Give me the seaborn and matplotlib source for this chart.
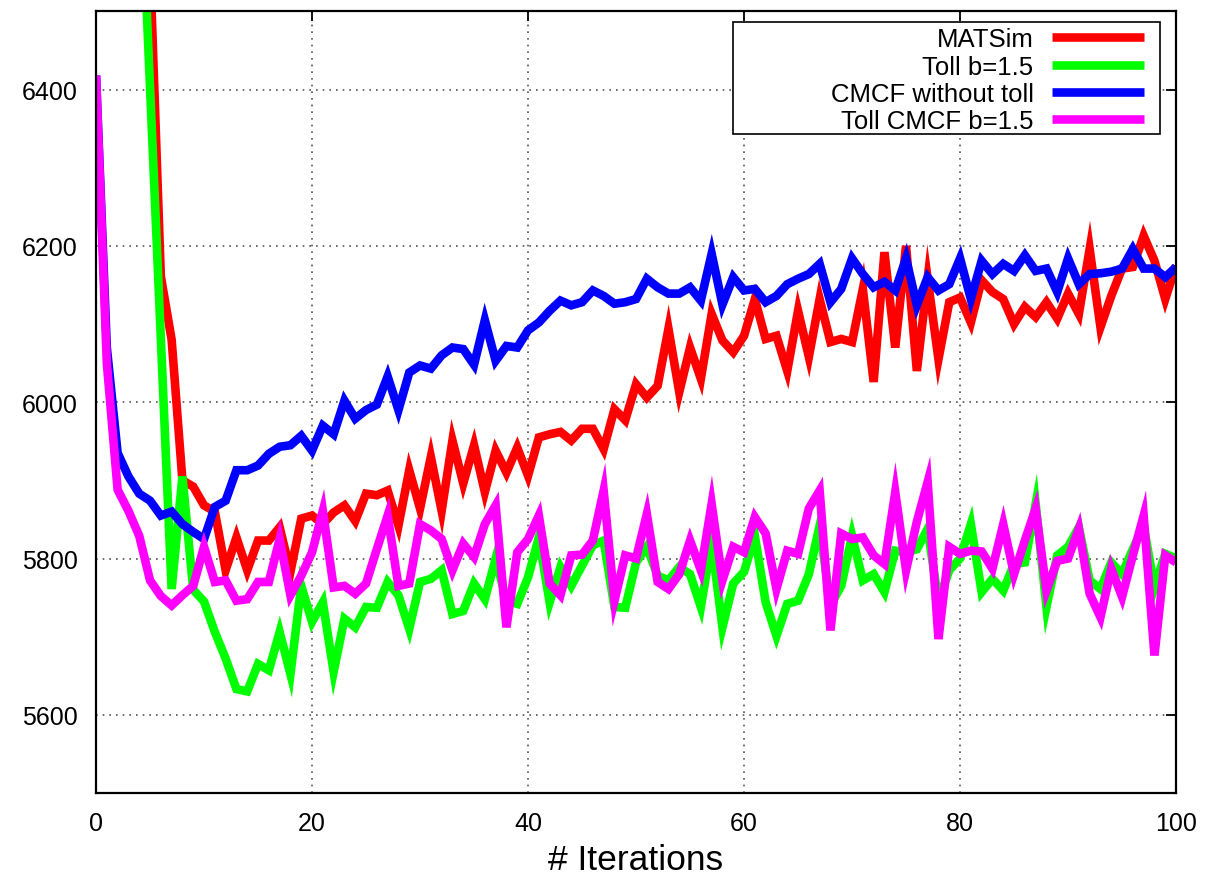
import matplotlib
matplotlib.use("Agg")
import matplotlib.pyplot as plt
import numpy as np
import pandas as pd
import seaborn as sns
from matplotlib.lines import Line2D
from matplotlib.patches import Rectangle

# ---------------- data ----------------
iterations = list(range(101))

matsim = [8200, 7800, 7400, 7100, 6850, 6560, 6161, 6080, 5900, 5892,
          5868, 5860, 5785, 5827, 5785, 5823, 5823, 5840, 5783, 5851,
          5855, 5844, 5859, 5868, 5848, 5883, 5881, 5887, 5842, 5913,
          5864, 5930, 5861, 5951, 5896, 5945, 5885, 5938, 5910, 5942,
          5906, 5955, 5959, 5962, 5951, 5966, 5966, 5940, 5991, 5977,
          6023, 6006, 6021, 6094, 6013, 6070, 6030, 6113, 6079, 6064,
          6085, 6132, 6081, 6085, 6040, 6117, 6058, 6132, 6077, 6081,
          6077, 6145, 6026, 6192, 6070, 6200, 6040, 6158, 6055, 6128,
          6134, 6102, 6156, 6141, 6132, 6100, 6122, 6109, 6128, 6107,
          6139, 6113, 6196, 6096, 6136, 6171, 6173, 6213, 6181, 6132,
          6175]

toll = [8000, 7600, 7250, 6980, 6725, 6403, 6082, 5761, 5905, 5760,
        5745, 5706, 5672, 5633, 5630, 5665, 5657, 5706, 5652, 5765,
        5719, 5744, 5655, 5723, 5712, 5738, 5737, 5770, 5753, 5710,
        5770, 5774, 5785, 5729, 5733, 5768, 5748, 5800, 5746, 5742,
        5776, 5827, 5744, 5789, 5765, 5791, 5817, 5823, 5738, 5737,
        5795, 5815, 5778, 5772, 5789, 5780, 5738, 5821, 5712, 5768,
        5783, 5829, 5744, 5701, 5742, 5746, 5780, 5842, 5740, 5765,
        5829, 5772, 5780, 5757, 5810, 5808, 5812, 5838, 5745, 5785,
        5800, 5844, 5757, 5774, 5759, 5793, 5795, 5870, 5738, 5804,
        5815, 5840, 5772, 5761, 5795, 5780, 5812, 5842, 5763, 5806,
        5800]

cmcf = [6418, 6070, 5935, 5905, 5883, 5874, 5855, 5860, 5844, 5834,
        5825, 5866, 5874, 5913, 5913, 5919, 5934, 5943, 5945, 5957,
        5938, 5970, 5959, 6002, 5979, 5990, 5997, 6033, 5990, 6038,
        6047, 6043, 6060, 6070, 6068, 6048, 6105, 6053, 6072, 6070,
        6092, 6102, 6117, 6130, 6124, 6128, 6143, 6136, 6126, 6128,
        6132, 6158, 6147, 6139, 6139, 6147, 6130, 6190, 6125, 6160,
        6143, 6145, 6128, 6136, 6151, 6158, 6164, 6177, 6128, 6145,
        6184, 6164, 6147, 6154, 6143, 6184, 6124, 6160, 6143, 6151,
        6184, 6132, 6181, 6164, 6177, 6168, 6188, 6168, 6171, 6141,
        6184, 6151, 6164, 6165, 6167, 6171, 6196, 6171, 6171, 6160,
        6173]

toll_cmcf = [6418, 6050, 5888, 5861, 5829, 5772, 5752, 5740, 5753, 5765,
             5815, 5770, 5772, 5746, 5748, 5770, 5770, 5825, 5753, 5778,
             5808, 5861, 5763, 5765, 5755, 5768, 5812, 5855, 5765, 5768,
             5844, 5836, 5825, 5785, 5819, 5802, 5844, 5868, 5712, 5808,
             5825, 5855, 5768, 5753, 5804, 5805, 5823, 5887, 5746, 5804,
             5800, 5857, 5770, 5761, 5780, 5823, 5785, 5870, 5772, 5815,
             5808, 5853, 5832, 5761, 5810, 5806, 5864, 5887, 5708, 5832,
             5825, 5827, 5804, 5793, 5885, 5785, 5847, 5898, 5697, 5815,
             5806, 5810, 5809, 5787, 5844, 5780, 5823, 5864, 5759, 5797,
             5800, 5838, 5755, 5725, 5787, 5751, 5804, 5855, 5676, 5804,
             5795]

series_names = ["MATSim", "Toll b=1.5", "CMCF without toll", "Toll CMCF b=1.5"]
series_colors = ["#ff0000", "#00ff00", "#0000ff", "#ff00ff"]
x_ticks = [0, 20, 40, 60, 80, 100]
y_ticks = [5600, 5800, 6000, 6200, 6400]
x_label = "# Iterations"

# ---------------- build frame ----------------
frames = []
for name, vals in zip(series_names, [matsim, toll, cmcf, toll_cmcf]):
    frames.append(pd.DataFrame({"iteration": iterations, "value": vals, "series": name}))
df = pd.concat(frames, ignore_index=True)

sns.set_theme(style="white")
plt.rcParams["font.family"] = ["Liberation Sans", "DejaVu Sans"]
plt.rcParams["text.color"] = "black"
plt.rcParams["axes.labelcolor"] = "black"
plt.rcParams["xtick.color"] = "black"
plt.rcParams["ytick.color"] = "black"

fig = plt.figure(figsize=(12.28, 8.78), dpi=100)
ax = fig.add_axes([0.0782, 0.0957, 0.8795, 0.8901])

LW = 6.2
sns.lineplot(data=df, x="iteration", y="value", hue="series",
             hue_order=series_names,
             palette=dict(zip(series_names, series_colors)),
             linewidth=LW, estimator=None, sort=False, legend=False, ax=ax)
for ln in ax.lines:
    ln.set_solid_joinstyle("miter")
    ln.set_solid_capstyle("butt")

ax.set_xlim(0, 100)
ax.set_ylim(5500, 6500)
ax.set_xticks(x_ticks)
ax.set_yticks(y_ticks)
ax.tick_params(axis="both", direction="in", length=7, width=1.3,
               top=True, right=True, labelsize=18, colors="black")
ax.tick_params(axis="x", pad=13)
ax.tick_params(axis="y", pad=13)
ax.set_xlabel(x_label, fontsize=25.5, labelpad=6, color="black")
ax.set_ylabel("")

ax.set_axisbelow(True)
ax.grid(True, color="#555555", linestyle=(0, (1, 3)), linewidth=1.2)
for sp in ax.spines.values():
    sp.set_color("black")
    sp.set_linewidth(1.6)

# legend box (opaque, gnuplot style)
box = Rectangle((0.590, 0.843), 0.395, 0.1432, transform=ax.transAxes,
                facecolor="white", edgecolor="black", linewidth=1.2, zorder=4)
ax.add_patch(box)
handles = [Line2D([0], [0], color=c, linewidth=LW, solid_capstyle="butt")
           for c in series_colors]
leg = ax.legend(handles, series_names, loc="upper right",
                bbox_to_anchor=(0.9704, 0.9798), frameon=False,
                markerfirst=False, fontsize=18.5, handlelength=3.6,
                handletextpad=0.7, labelspacing=0.13, borderpad=0.0,
                borderaxespad=0.0)
for t in leg.get_texts():
    t.set_color("black")
leg.set_zorder(5)

fig.savefig("out.png", dpi=100, facecolor="white")
